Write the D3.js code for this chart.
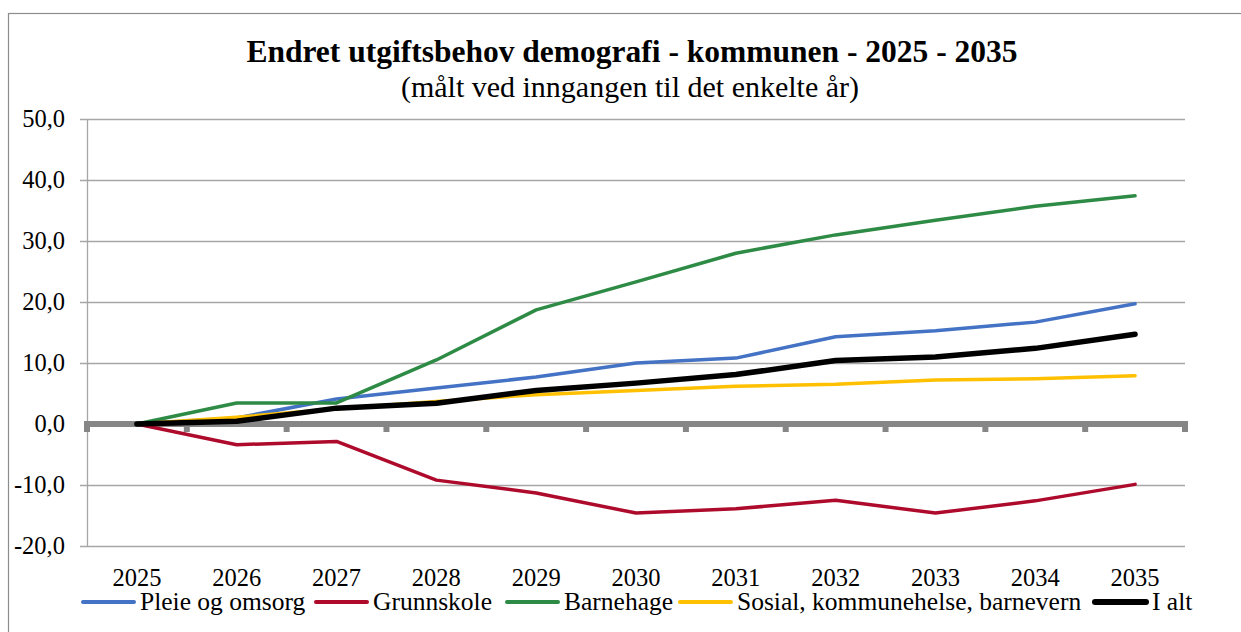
<!DOCTYPE html>
<html>
<head>
<meta charset="utf-8">
<script src="https://cdn.jsdelivr.net/npm/d3@7"></script>
<style>
  body { margin: 0; background: #fff; }
  text { font-family: "Liberation Serif", "DejaVu Serif", serif; fill: #000; }
</style>
</head>
<body>
<div id="chart"></div>
<script>
// years on the x axis
var years = ["2025", "2026", "2027", "2028", "2029", "2030", "2031", "2032", "2033", "2034", "2035"];

// series values
var pleie      = [0, 1.0, 4.1, 5.9, 7.7, 10.0, 10.8, 14.3, 15.3, 16.7, 19.7];
var grunnskole = [0, -3.4, -2.85, -9.2, -11.3, -14.6, -13.9, -12.5, -14.6, -12.6, -9.9];
var barnehage  = [0, 3.45, 3.45, 10.5, 18.7, 23.3, 28.0, 31.0, 33.4, 35.7, 37.4];
var sosial     = [0, 1.1, 2.5, 3.7, 4.8, 5.5, 6.2, 6.5, 7.2, 7.4, 7.9];
var ialt       = [0, 0.45, 2.6, 3.4, 5.5, 6.7, 8.1, 10.4, 11.0, 12.4, 14.7];

var yTicks = [-20, -10, 0, 10, 20, 30, 40, 50];

var series = [
  {name: "Pleie og omsorg", values: pleie, color: "#4472C4", width: 3.5},
  {name: "Grunnskole", values: grunnskole, color: "#AE0B2C", width: 3.5},
  {name: "Barnehage", values: barnehage, color: "#2E8B45", width: 3.5},
  {name: "Sosial, kommunehelse, barnevern", values: sosial, color: "#FFC000", width: 3.5},
  {name: "I alt", values: ialt, color: "#000000", width: 5.5}
];

var w = 1241, h = 632;
// plot area edges
var pLeft = 87, pRight = 1185, pTop = 119, pBottom = 546;

var svg = d3.select("#chart").append("svg")
  .attr("width", w)
  .attr("height", h);

// outer frame
svg.append("rect")
  .attr("x", 8.5).attr("y", 13.5)
  .attr("width", 1240).attr("height", 640)
  .style("fill", "none")
  .style("stroke", "#8c8c8c")
  .style("stroke-width", 1.2);

var x = d3.scaleBand().domain(years).range([pLeft, pRight]);
var y = d3.scaleLinear().domain([-20, 50]).range([pBottom, pTop]);

// gridlines
svg.append("g").selectAll("line")
  .data(yTicks.filter(function(d) { return d != 0; }))
  .enter().append("line")
  .attr("x1", pLeft - 7).attr("x2", pRight)
  .attr("y1", function(d) { return Math.round(y(d)) + 0.5; })
  .attr("y2", function(d) { return Math.round(y(d)) + 0.5; })
  .style("stroke", "#a6a6a6")
  .style("stroke-width", 1.3);

// y axis line
svg.append("line")
  .attr("x1", pLeft + 0.5).attr("x2", pLeft + 0.5)
  .attr("y1", pTop).attr("y2", pBottom)
  .style("stroke", "#a6a6a6")
  .style("stroke-width", 1.3);

// y labels
svg.append("g").selectAll("text")
  .data(yTicks)
  .enter().append("text")
  .attr("x", 65)
  .attr("y", function(d) { return y(d) + 8; })
  .attr("text-anchor", "end")
  .style("font-size", "24.5px")
  .text(function(d) { return d3.format(".1f")(d).replace(".", ",").replace("−", "-"); });

// zero axis with tick marks at category boundaries
var bounds = years.map(function(d) { return x(d); }).concat([pRight]);
svg.append("g").selectAll("line")
  .data(bounds)
  .enter().append("line")
  .attr("x1", function(d) { return d; }).attr("x2", function(d) { return d; })
  .attr("y1", y(0)).attr("y2", y(0) + 8)
  .style("stroke", "#868686")
  .style("stroke-width", 6);
svg.append("line")
  .attr("x1", pLeft - 3).attr("x2", pRight + 3)
  .attr("y1", y(0)).attr("y2", y(0))
  .style("stroke", "#868686")
  .style("stroke-width", 6);

// x labels
svg.append("g").selectAll("text")
  .data(years)
  .enter().append("text")
  .attr("x", function(d) { return x(d) + x.bandwidth() / 2; })
  .attr("y", 586)
  .attr("text-anchor", "middle")
  .style("font-size", "24.5px")
  .text(function(d) { return d; });

// lines
var line = d3.line()
  .x(function(d, i) { return x(years[i]) + x.bandwidth() / 2; })
  .y(function(d) { return y(d); });

svg.append("g").selectAll("path")
  .data(series)
  .enter().append("path")
  .attr("d", function(d) { return line(d.values); })
  .style("fill", "none")
  .style("stroke", function(d) { return d.color; })
  .style("stroke-width", function(d) { return d.width; })
  .style("stroke-linejoin", "round")
  .style("stroke-linecap", "round");

// title
svg.append("text")
  .attr("x", 632).attr("y", 62)
  .attr("text-anchor", "middle")
  .style("font-size", "31.5px")
  .style("font-weight", "bold")
  .text("Endret utgiftsbehov demografi - kommunen - 2025 - 2035");
svg.append("text")
  .attr("x", 630).attr("y", 97)
  .attr("text-anchor", "middle")
  .style("font-size", "30px")
  .text("(målt ved inngangen til det enkelte år)");

// legend
var legX = [82, 315, 506, 679, 1094];
var leg = svg.append("g").selectAll("g")
  .data(series)
  .enter().append("g")
  .attr("transform", function(d, i) { return "translate(" + legX[i] + ",602)"; });
leg.append("line")
  .attr("x1", 1).attr("x2", 52)
  .attr("y1", 0).attr("y2", 0)
  .style("stroke", function(d) { return d.color; })
  .style("stroke-width", function(d) { return d.width + 0.5; })
  .style("stroke-linecap", "round");
leg.append("text")
  .attr("x", 58).attr("y", 8)
  .style("font-size", "25.5px")
  .text(function(d) { return d.name; });
</script>
</body>
</html>
